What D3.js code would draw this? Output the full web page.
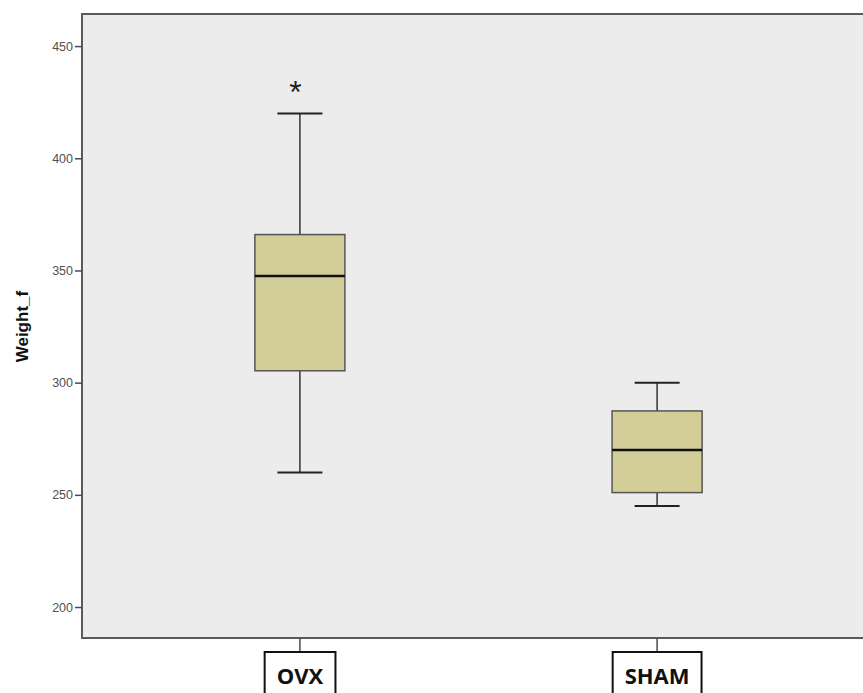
<!DOCTYPE html>
<html>
<head>
  <meta charset="UTF-8">
  <title>Weight_f boxplot</title>
  <style>
    body { margin: 0; background: #fff; }
    svg { display: block; }
  </style>
</head>
<body>
<svg></svg>
<script src="https://d3js.org/d3.v7.min.js"></script>
<script>

// data
let groups = ["OVX", "SHAM"];
let whiskerLow = [260, 245];
let q1 = [305.3, 251];
let median = [347.5, 270];
let q3 = [366, 287.4];
let whiskerHigh = [420, 300];
let extremes = [[432], []];   // points drawn as "*"
let yTicks = [200, 250, 300, 350, 400, 450];
let yDomain = [186.2, 464.3];

let width = 863,
    height = 693;

let margin = {left: 82, top: 14, bottom: 638, right: 875};

let svg = d3.select("svg")
    .attr("width", width)
    .attr("height", height);

let y = d3.scaleLinear()
    .domain(yDomain)
    .range([margin.bottom, margin.top]);

let x = d3.scaleBand()
    .domain(groups)
    .range([margin.left, margin.right])
    .paddingInner(0)
    .paddingOuter(0.11);

let cx = d => x(d) + x.bandwidth() / 2;
let boxW = x.bandwidth() * 0.252;
let capW = boxW / 2;

// plot background
svg.append("rect")
    .attr("x", margin.left)
    .attr("y", margin.top)
    .attr("width", margin.right - margin.left)
    .attr("height", margin.bottom - margin.top)
    .attr("fill", "#ececec");

// frame (top, left, bottom)
svg.append("path")
    .attr("d", "M" + margin.right + "," + margin.top + "H" + margin.left + "V" + margin.bottom + "H" + margin.right)
    .attr("fill", "none")
    .attr("stroke", "#5a5a5a")
    .attr("stroke-width", 2);

// y axis
let yAxis = d3.axisLeft(y)
    .tickValues(yTicks)
    .tickSize(7)
    .tickPadding(2);

let gy = svg.append("g")
    .attr("transform", "translate(" + margin.left + ",0)")
    .call(yAxis);
gy.select(".domain").remove();
gy.selectAll(".tick line").attr("stroke", "#4a4a4a").attr("stroke-width", 1.5);
gy.selectAll(".tick text")
    .attr("fill", "#505050")
    .style("font", "12.5px Arial, 'Liberation Sans', sans-serif");

svg.append("text")
    .attr("transform", "translate(28," + (y(325)) + ") rotate(-90)")
    .attr("text-anchor", "middle")
    .style("font", "bold 17px Arial, 'Liberation Sans', sans-serif")
    .attr("fill", "#111")
    .text("Weight_f");

// x ticks and boxed labels
let xg = svg.append("g");
groups.forEach((g, i) => {
    xg.append("line")
        .attr("x1", cx(g)).attr("x2", cx(g))
        .attr("y1", margin.bottom).attr("y2", margin.bottom + 13)
        .attr("stroke", "#4a4a4a")
        .attr("stroke-width", 1.5);
    let t = xg.append("text")
        .attr("x", cx(g))
        .attr("y", 684)
        .attr("text-anchor", "middle")
        .style("font", "bold 22px 'Open Sans', 'Noto Sans', sans-serif")
        .attr("fill", "#111")
        .text(g);
    let bb = t.node().getBBox();
    xg.insert("rect", "text")
        .attr("x", bb.x - 12)
        .attr("y", margin.bottom + 14)
        .attr("width", bb.width + 24)
        .attr("height", 60)
        .attr("fill", "#fff")
        .attr("stroke", "#111")
        .attr("stroke-width", 2);
});

// boxes
let boxes = svg.append("g");
groups.forEach((g, i) => {
    let c = cx(g);
    // whisker stems
    boxes.append("line")
        .attr("x1", c).attr("x2", c)
        .attr("y1", y(whiskerHigh[i])).attr("y2", y(q3[i]))
        .attr("stroke", "#333").attr("stroke-width", 1.5);
    boxes.append("line")
        .attr("x1", c).attr("x2", c)
        .attr("y1", y(q1[i])).attr("y2", y(whiskerLow[i]))
        .attr("stroke", "#333").attr("stroke-width", 1.5);
    // caps
    [whiskerHigh[i], whiskerLow[i]].forEach(v => {
        boxes.append("line")
            .attr("x1", c - capW / 2).attr("x2", c + capW / 2)
            .attr("y1", y(v)).attr("y2", y(v))
            .attr("stroke", "#222").attr("stroke-width", 2);
    });
    // box
    boxes.append("rect")
        .attr("x", c - boxW / 2)
        .attr("y", y(q3[i]))
        .attr("width", boxW)
        .attr("height", y(q1[i]) - y(q3[i]))
        .attr("fill", "#d3cd98")
        .attr("stroke", "#555")
        .attr("stroke-width", 1.5);
    // median
    boxes.append("line")
        .attr("x1", c - boxW / 2).attr("x2", c + boxW / 2)
        .attr("y1", y(median[i])).attr("y2", y(median[i]))
        .attr("stroke", "#111").attr("stroke-width", 2.5);
    // extremes
    extremes[i].forEach(v => {
        boxes.append("text")
            .attr("x", c - 4.5)
            .attr("y", y(v) + 17)
            .attr("text-anchor", "middle")
            .style("font", "32px Arial, 'Liberation Sans', sans-serif")
            .attr("fill", "#222")
            .text("*");
    });
});

</script>
</body>
</html>
